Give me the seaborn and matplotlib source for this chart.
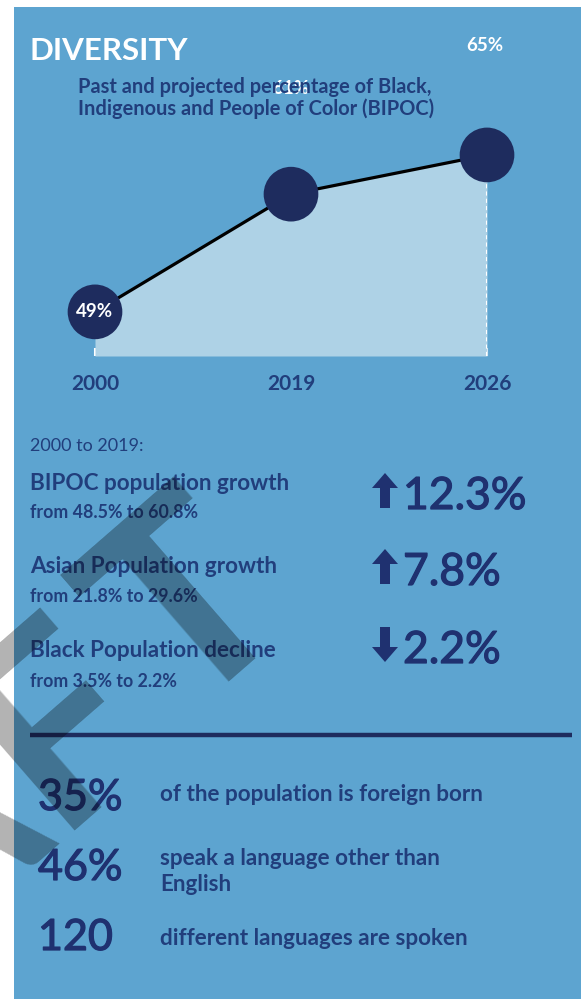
import numpy as np
import pandas as pd
import matplotlib
matplotlib.use("Agg")
import matplotlib.pyplot as plt
import matplotlib.patheffects as pe
import seaborn as sns
from matplotlib.patches import Rectangle, Polygon

# ---------------- data ----------------
years = ["2000", "2019", "2026"]
bipoc_pct = [49, 61, 65]
point_labels = ["49%", "61%", "65%"]

change_titles = ["BIPOC population growth", "Asian Population growth", "Black Population decline"]
change_details = ["from 48.5% to 60.8%", "from 21.8% to 29.6%", "from 3.5% to 2.2%"]
change_values = ["12.3%", "7.8%", "2.2%"]
change_dirs = ["up", "up", "down"]

fact_values = ["35%", "46%", "120"]
fact_texts = ["of the population is foreign born",
              "speak a language other than\nEnglish",
              "different languages are spoken"]

# ---------------- style ----------------
W, H = 581, 999
sns.set_theme(style="white")
plt.rcParams["font.family"] = ["Lato", "DejaVu Sans"]

BLUE = "#5da4d0"
LIGHT = "#aed2e6"
NAVY = "#1e2c5e"
TEXT = "#213e7c"
NUM = "#1f3170"

fig = plt.figure(figsize=(W / 100, H / 100), dpi=100)
fig.patch.set_facecolor("white")

# background panel
bg = fig.add_axes([0, 0, 1, 1], zorder=0)
bg.set_xlim(0, W); bg.set_ylim(H, 0); bg.axis("off")
bg.add_patch(Rectangle((14, 7), W - 14, H - 7, color=BLUE, lw=0))

# ---------------- chart ----------------
x0, x1, ybase, ytop = 95, 487, 356, 152
ymin, ymax = 44.5, 65.3
ax = fig.add_axes([x0 / W, 1 - ybase / H, (x1 - x0) / W, (ybase - ytop) / H], zorder=1)
ax.patch.set_alpha(0)
df = pd.DataFrame({"pos": np.arange(len(years)), "year": years, "pct": bipoc_pct})
ax.fill_between(df["pos"], df["pct"], ymin, color=LIGHT, lw=0, zorder=1)
ax.vlines(df["pos"].iloc[-1], ymin, df["pct"].iloc[-1], colors="white",
          linestyles=(0, (2, 1.5)), lw=1.5, zorder=1.5)
sns.lineplot(data=df, x="pos", y="pct", ax=ax, color="black", lw=2.3, zorder=2)
sns.scatterplot(data=df, x="pos", y="pct", ax=ax, s=1550, color=NAVY,
                edgecolor="none", zorder=3, clip_on=False, legend=False)
ax.set_xlim(0, len(years) - 1)
ax.set_ylim(ymin, ymax)
ax.set_xlabel(""); ax.set_ylabel("")
ax.set_yticks([])
ax.set_xticks(df["pos"])
ax.set_xticklabels(years)
ax.tick_params(axis="x", direction="in", length=6, width=1.5, color="white",
               pad=13, labelsize=15, labelcolor=TEXT, bottom=True)
for lbl in ax.get_xticklabels():
    lbl.set_fontweight("bold")
for s in ax.spines.values():
    s.set_visible(False)

label_offsets = [(0, 0), (0, 106), (-2, 109)]
for xp, yv, lab, off in zip(df["pos"], df["pct"], point_labels, label_offsets):
    ax.annotate(lab, (xp, yv), xytext=off, textcoords="offset pixels",
                ha="center", va="center", color="white", fontsize=13.5,
                fontweight="bold", zorder=5, annotation_clip=False)

# ---------------- foreground text ----------------
fg = fig.add_axes([0, 0, 1, 1], zorder=2)
fg.set_xlim(0, W); fg.set_ylim(H, 0); fg.axis("off")
fg.patch.set_alpha(0)

fg.text(30, 60, "DIVERSITY", color="white", fontsize=22.5, fontweight="bold", va="baseline")
fg.text(78, 93, "Past and projected percentage of Black,", color=TEXT, fontsize=14.4,
        fontweight="bold", va="baseline", zorder=1)
fg.text(78, 115, "Indigenous and People of Color (BIPOC)", color=TEXT, fontsize=14.4,
        fontweight="bold", va="baseline", zorder=1)

fg.text(30, 451, "2000 to 2019:", color=TEXT, fontsize=13, va="baseline")

thick = [pe.withStroke(linewidth=0.9, foreground=NUM)]
title_base = [490, 573, 657]
detail_base = [518, 602, 687]
value_base = [509, 585, 663]
for t, d, v, dr, tb, db, vb in zip(change_titles, change_details, change_values,
                                    change_dirs, title_base, detail_base, value_base):
    fg.text(30, tb, t, color=TEXT, fontsize=16.2, fontweight="bold", va="baseline")
    fg.text(30, db, d, color=TEXT, fontsize=12.8, fontweight="bold", va="baseline")
    fg.text(403, vb, v, color=NUM, fontsize=32, va="baseline", path_effects=thick)
    cx, top, bot = 385, vb - 36, vb - 1
    if dr == "up":
        pts = [(cx - 5, bot), (cx - 5, top + 15), (cx - 13, top + 15), (cx, top),
               (cx + 13, top + 15), (cx + 5, top + 15), (cx + 5, bot)]
    else:
        pts = [(cx - 5, top), (cx - 5, bot - 15), (cx - 13, bot - 15), (cx, bot),
               (cx + 13, bot - 15), (cx + 5, bot - 15), (cx + 5, top)]
    fg.add_patch(Polygon(pts, closed=True, color=NUM, lw=0))

fg.plot([30, 572], [735, 735], color=NAVY, lw=3.2, solid_capstyle="butt")

fact_base = [810, 880, 950]
text_base = [801, 865, 945]
for v, t, vb, tb in zip(fact_values, fact_texts, fact_base, text_base):
    fg.text(38, vb, v, color=NUM, fontsize=31, va="baseline", path_effects=thick)
    for i, line in enumerate(t.split("\n")):
        fg.text(160, tb + 26 * i, line, color=TEXT, fontsize=16.2, fontweight="bold",
                va="baseline")

# watermark ("DRAFT", mostly off the left edge)
wm = dict(rotation=41, rotation_mode="anchor", va="baseline", fontsize=190,
          fontweight="bold", color="black", alpha=0.3, zorder=10)
fg.text(167, 732, "DRAF", ha="right", **wm)
fg.text(242, 667, "T", ha="center", **wm)

fig.savefig("out.png", dpi=100, facecolor="white")
